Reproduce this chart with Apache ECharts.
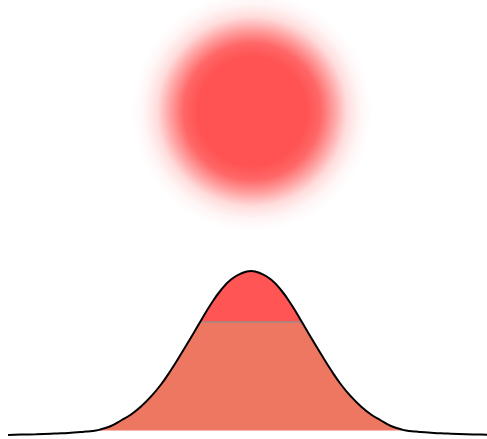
<!DOCTYPE html>
<html>
<head>
    <meta charset="utf-8">
    <script src="https://cdn.jsdelivr.net/npm/echarts/dist/echarts.min.js"></script>
    <title>Bell</title>
</head>
<body style="margin: 0">
<div id="container" style="width: 487px; height: 439px"></div>
<script type="text/javascript">
// curve: offset from the peak, height above the baseline
let curveX = [-243, -230, -215, -200, -190, -180, -170, -165, -155, -150, -140, -130, -120, -110, -100, -90, -80, -70, -60, -50, -40, -30, -20, -10, 0,
               10, 20, 30, 40, 50, 60, 70, 80, 90, 100, 110, 120, 130, 140, 150, 155, 165, 170, 180, 190, 200, 215, 230, 245]
let curveY = [0.5, 0.9, 1.3, 1.8, 2.2, 2.8, 3.5, 4, 5, 6.2, 9.5, 15, 21, 29, 39, 51, 65.5, 81.5, 98, 115, 131.5, 145.5, 156, 162, 164.5,
               162, 156, 145.5, 131.5, 115, 98, 81.5, 65.5, 51, 39, 29, 21, 15, 9.5, 6.2, 5, 4, 3.5, 2.8, 2.2, 1.8, 1.3, 0.9, 0.5]

let fillLevel = 5          // bottom of the coloured area
let capLevel = 113.5       // where red cap meets the salmon part
let capEdgeX = [-51, 51]
let blob = [1, 324]

let red = '#ff5555'
let salmon = '#ee7762'

let curve = curveX.map((x, i) => [x, curveY[i]])
let filled = curve.filter(p => p[1] >= fillLevel)
let cap = [[capEdgeX[0], capLevel]].concat(curve.filter(p => p[1] > capLevel), [[capEdgeX[1], capLevel]])

let chart = echarts.init(document.getElementById('container'))
chart.setOption({
    animation: false,
    grid: {left: 0, right: 0, top: 0, bottom: 3.5},
    xAxis: {type: 'value', min: -251, max: 236, show: false},
    yAxis: {type: 'value', min: 0, max: 435.5, show: false},
    series: [
        {
            type: 'scatter',
            data: [blob],
            symbolSize: 240,
            silent: true,
            itemStyle: {
                opacity: 1,
                color: {
                    type: 'radial', x: 0.5, y: 0.5, r: 0.5,
                    colorStops: [
                        {offset: 0, color: 'rgba(255,82,82,1)'},
                        {offset: 0.45, color: 'rgba(255,82,82,1)'},
                        {offset: 0.57, color: 'rgba(255,82,82,0.88)'},
                        {offset: 0.68, color: 'rgba(255,82,82,0.55)'},
                        {offset: 0.79, color: 'rgba(255,82,82,0.2)'},
                        {offset: 0.9, color: 'rgba(255,82,82,0.05)'},
                        {offset: 1, color: 'rgba(255,82,82,0)'}
                    ]
                }
            }
        },
        {
            type: 'line',
            data: filled,
            smooth: true,
            symbol: 'none',
            lineStyle: {width: 0},
            areaStyle: {origin: fillLevel, color: salmon, opacity: 1}
        },
        {
            type: 'line',
            data: cap,
            smooth: true,
            symbol: 'none',
            lineStyle: {width: 0},
            areaStyle: {origin: capLevel, color: red, opacity: 1}
        },
        {
            type: 'line',
            data: capEdgeX.map(x => [x, capLevel]),
            symbol: 'none',
            lineStyle: {color: '#a08a85', width: 1.5}
        },
        {
            type: 'line',
            data: curve,
            smooth: true,
            symbol: 'none',
            lineStyle: {color: '#000', width: 2}
        }
    ]
})
</script>
</body>
</html>
